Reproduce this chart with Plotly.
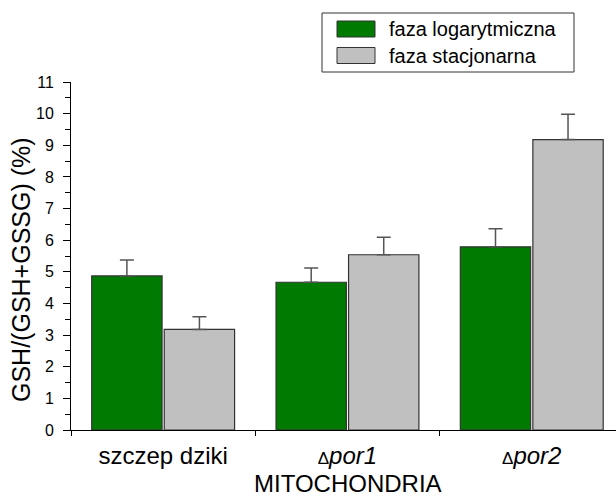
import plotly.graph_objects as go

# Glutathione redox ratio in mitochondria
DELTA = "<span style='font-size:17px'>\u0394</span>"
strains = ["szczep dziki", DELTA + "<i>por1</i>", DELTA + "<i>por2</i>"]
log_phase = [4.87, 4.67, 5.79]
log_phase_err = [0.50, 0.45, 0.57]
stat_phase = [3.18, 5.54, 9.18]
stat_phase_err = [0.40, 0.55, 0.80]
series_names = ["faza logarytmiczna", "faza stacjonarna"]
series_colors = ["#007A00", "#C0C0C0"]
y_title = "GSH/(GSH+GSSG) (%)"
x_title = "MITOCHONDRIA"

W, H = 616, 498
ML, MR, MT, MB = 71, 0, 82, 68
FONT = "Liberation Sans, Arial, sans-serif"

fig = go.Figure()
for name, vals, errs, col in zip(series_names, [log_phase, stat_phase],
                                 [log_phase_err, stat_phase_err], series_colors):
    fig.add_trace(go.Bar(
        x=strains, y=vals, name=name, showlegend=False,
        marker=dict(color=col, line=dict(color="#333333", width=1.2)),
        error_y=dict(type="data", symmetric=False, array=errs,
                     arrayminus=[0] * len(errs), color="#555555",
                     thickness=1.5, width=7),
    ))

# Helpers converting page pixels to paper coordinates
def px_x(px):
    return (px - ML) / (W - ML - MR)

def px_y(py):
    return (H - MB - py) / (H - MT - MB)

# Boxed legend
shapes = [dict(type="rect", xref="paper", yref="paper",
               x0=px_x(322), x1=px_x(574), y0=px_y(72), y1=px_y(13),
               line=dict(color="#333333", width=1), fillcolor="white")]
annotations = []
for i, (name, col) in enumerate(zip(series_names, series_colors)):
    cy = 29 + i * 26.5
    shapes.append(dict(type="rect", xref="paper", yref="paper",
                       x0=px_x(337), x1=px_x(375), y0=px_y(cy + 8), y1=px_y(cy - 8),
                       line=dict(color="#333333", width=1), fillcolor=col))
    annotations.append(dict(xref="paper", yref="paper", x=px_x(387), y=px_y(cy),
                            text=name, showarrow=False, xanchor="left", yanchor="middle",
                            font=dict(family=FONT, size=20, color="black")))

# Axis titles
annotations.append(dict(xref="paper", yref="paper", x=px_x(21), y=px_y(270),
                        text=y_title, textangle=-90, showarrow=False,
                        xanchor="center", yanchor="middle",
                        font=dict(family=FONT, size=25, color="black")))
annotations.append(dict(xref="paper", yref="paper", x=px_x(348), y=px_y(483),
                        text=x_title, showarrow=False, borderpad=0,
                        xanchor="center", yanchor="middle",
                        font=dict(family=FONT, size=24, color="black")))

fig.update_layout(
    width=W, height=H,
    margin=dict(l=ML, r=MR, t=MT, b=MB, pad=0),
    plot_bgcolor="white", paper_bgcolor="white",
    barmode="group", bargap=0.213, bargroupgap=0.03,
    font=dict(family=FONT, color="black"),
    shapes=shapes, annotations=annotations,
    showlegend=False,
)
fig.update_xaxes(
    type="category", range=[-0.5, 2.457],
    showline=True, linecolor="black", linewidth=1,
    ticks="outside", tickson="boundaries", ticklen=5, tickcolor="black",
    tickfont=dict(size=24), ticklabelstandoff=4,
    showgrid=False, zeroline=False,
)
fig.update_yaxes(
    range=[0, 11], dtick=1, tick0=0,
    showline=True, linecolor="black", linewidth=1,
    ticks="outside", ticklen=7, tickcolor="black",
    minor=dict(dtick=0.5, ticks="outside", ticklen=5, tickcolor="black"),
    tickfont=dict(size=16), ticklabelstandoff=6,
    showgrid=False, zeroline=False,
)

fig.write_html("out.html")
